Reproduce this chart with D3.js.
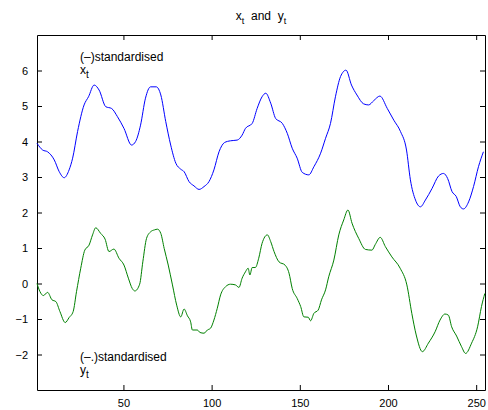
<!DOCTYPE html>
<html>
<head>
<meta charset="utf-8">
<script src="https://cdn.jsdelivr.net/npm/d3@7"></script>
<style>
  body { margin: 0; background: #fff; }
  svg text { font-family: "Liberation Sans", Arial, sans-serif; fill: #000; }
</style>
</head>
<body>
<div id="chart"></div>
<script>
// time index and values
const tX = [1, 4.2, 7, 10.8, 13.6, 16.4, 19.2, 21.2, 24, 27.7, 30.2, 33.4, 36.2, 40, 43.3, 46.6, 50.3, 54.6, 56.9, 59.7,
  62.5, 65.4, 68.6, 71.2, 74, 76.8, 79.7, 82.5, 84.4, 87.2, 90, 92.9, 95.7, 98.5, 101.3, 104.2, 107.3, 110.7, 114.5, 117.3,
  119.2, 123, 125.8, 128.6, 130.7, 133.5, 136.3, 140.1, 142.9, 145.7, 148.5, 151.4, 155.1, 158, 161.8, 164.6, 167.4, 170.2,
  173.1, 176.2, 179.3, 182.4, 186.2, 189, 191.9, 195.4, 199.6, 203.3, 207.1, 210.5, 212.7, 215.6, 218.4, 221.2, 225, 228.7,
  231.5, 233.8, 236.3, 238.7, 241, 242.8, 245.7, 248.5, 251.3, 254.1];
const xt = [3.95, 3.76, 3.71, 3.48, 3.15, 2.98, 3.2, 3.53, 4.28, 5.03, 5.26, 5.59, 5.45, 4.98, 4.93, 4.7, 4.37, 3.9, 4.0, 4.46,
  5.22, 5.54, 5.54, 5.31, 4.56, 3.9, 3.39, 3.22, 3.15, 2.87, 2.75, 2.65, 2.73, 2.87, 3.2, 3.71, 3.97, 4.02, 4.04, 4.18,
  4.37, 4.51, 4.93, 5.26, 5.36, 5.08, 4.65, 4.51, 4.23, 3.81, 3.53, 3.13, 3.06, 3.29, 3.67, 4.09, 4.51, 5.26,
  5.83, 6.01, 5.59, 5.31, 5.06, 5.03, 5.15, 5.28, 4.93, 4.6, 4.28, 3.76, 2.92, 2.35, 2.16, 2.35, 2.68, 3.03,
  3.1, 2.96, 2.59, 2.45, 2.16, 2.1, 2.3, 2.73, 3.29, 3.71];

const tY = [1, 2.7, 4.6, 7, 9.5, 11.7, 14, 17, 19.2, 21.5, 23.4, 25.8, 28.1, 30.5, 32.5, 34.3, 37.1, 39.6, 41.8, 44.6,
  47.5, 50.3, 52.8, 55, 56.5, 59.2, 61, 63.1, 65.5, 67.6, 69.3, 71.2, 73.1, 75.4, 77.8, 80.2, 82.5, 84.4, 86.3, 88.1,
  89.1, 91.9, 93.4, 95.7, 97.6, 99.4, 101.3, 103.2, 105.1, 107.9, 110.7, 113.5, 115.5, 117.3, 119.2, 120.7, 121.7, 123,
  124.8, 126.7, 128.6, 131.6, 133.5, 135.4, 138.2, 141.6, 143.9, 145.7, 148.5, 150.5, 152.3, 154.8, 156.1, 158, 160.4,
  162.3, 164.6, 166.4, 169.3, 172.1, 174.9, 177.3, 179.6, 183.4, 187.2, 190.9, 192.8, 195.6, 198.5, 202.2, 206.9, 210.7,
  213.5, 216, 219.5, 222.9, 226.7, 229.5, 232.3, 234.2, 236.1, 238.9, 241.7, 244, 247.4, 250.8, 253, 254.9];
const yt = [0.0, -0.23, -0.34, -0.25, -0.46, -0.51, -0.79, -1.1, -0.96, -0.79, -0.23, 0.43, 0.94, 1.08, 1.37, 1.57, 1.41, 1.25, 0.9, 0.97,
  0.71, 0.52, 0.15, -0.14, -0.21, -0.02, 0.61, 1.27, 1.46, 1.51, 1.53, 1.41, 0.99, 0.52, -0.04, -0.61, -0.94, -0.72, -0.91, -1.08,
  -1.31, -1.31, -1.38, -1.4, -1.31, -1.26, -1.03, -0.7, -0.32, -0.09, -0.02, -0.04, -0.11, 0.15, 0.33, 0.43, 0.24, 0.45,
  0.45, 0.71, 1.13, 1.37, 1.18, 0.9, 0.61, 0.52, 0.29, -0.14, -0.42, -0.65, -0.94, -0.95, -1.05, -0.84, -0.75,
  -0.46, -0.18, 0.19, 0.66, 1.37, 1.79, 2.07, 1.7, 1.27, 0.96, 0.94, 1.1, 1.3, 1.04, 0.75, 0.43, -0.04,
  -0.84, -1.45, -1.92, -1.68, -1.36, -1.03, -0.86, -0.89, -1.22, -1.48, -1.78, -1.97, -1.68, -1.22, -0.65, -0.28];

const xTicks = [50, 100, 150, 200, 250];
const yTicks = [-2, -1, 0, 1, 2, 3, 4, 5, 6];

const W = 488, H = 410;
const margin = {top: 35, right: 3, bottom: 20, left: 37};
const width = W - margin.left - margin.right;
const height = H - margin.top - margin.bottom;

const svg = d3.select("#chart").append("svg")
    .attr("width", W)
    .attr("height", H);

const g = svg.append("g")
    .attr("transform", `translate(${margin.left},${margin.top})`);

const x = d3.scaleLinear().domain([1, 255]).range([0, width]);
const y = d3.scaleLinear().domain([-3, 7]).range([height, 0]);

const fmt = d => d < 0 ? "\u2212" + Math.abs(d) : String(d);

// axes, MATLAB style: ticks pointing in, box all round
g.append("g")
    .attr("transform", `translate(0,${height})`)
    .call(d3.axisBottom(x).tickValues(xTicks).tickSizeInner(-5).tickSizeOuter(0).tickPadding(9));
g.append("g")
    .call(d3.axisTop(x).tickValues(xTicks).tickSizeInner(-5).tickSizeOuter(0).tickFormat(""));
g.append("g")
    .call(d3.axisLeft(y).tickValues(yTicks).tickSizeInner(-5).tickSizeOuter(0).tickPadding(9).tickFormat(fmt));
g.append("g")
    .attr("transform", `translate(${width},0)`)
    .call(d3.axisRight(y).tickValues(yTicks).tickSizeInner(-5).tickSizeOuter(0).tickFormat(""));

g.selectAll(".domain").attr("stroke", "#000").attr("stroke-width", 1);
g.selectAll(".tick line").attr("stroke", "#000");
g.selectAll(".tick text").style("font-size", "11px");

const line = d3.line().curve(d3.curveMonotoneX);

g.append("path")
    .attr("d", line(tX.map((t, i) => [x(t), y(xt[i])])))
    .attr("fill", "none")
    .attr("stroke", "#0000ff")
    .attr("stroke-width", 1);

g.append("path")
    .attr("d", line(tY.map((t, i) => [x(t), y(yt[i])])))
    .attr("fill", "none")
    .attr("stroke", "#008000")
    .attr("stroke-width", 1);

// title
const title = svg.append("text")
    .attr("x", margin.left + width / 2)
    .attr("y", 20)
    .attr("text-anchor", "middle")
    .attr("xml:space", "preserve")
    .style("font-size", "12px");
title.append("tspan").text("x");
title.append("tspan").attr("dy", 4).style("font-size", "9px").text("t");
title.append("tspan").attr("dy", -4).text("  and  y");
title.append("tspan").attr("dy", 4).style("font-size", "9px").text("t");

// in-plot labels, two lines in one text like MATLAB's multi-line text
function label(x0, y0, first, sym) {
  const t = svg.append("text").attr("x", x0).attr("y", y0).style("font-size", "12px");
  t.append("tspan").text(first);
  t.append("tspan").attr("x", x0).attr("dy", 13).text(sym);
  t.append("tspan").attr("dy", 4).style("font-size", "10px").text("t");
}
label(80, 61, "(\u2013)standardised", "x");
label(80, 361, "(\u2013.)standardised", "y");
</script>
</body>
</html>
